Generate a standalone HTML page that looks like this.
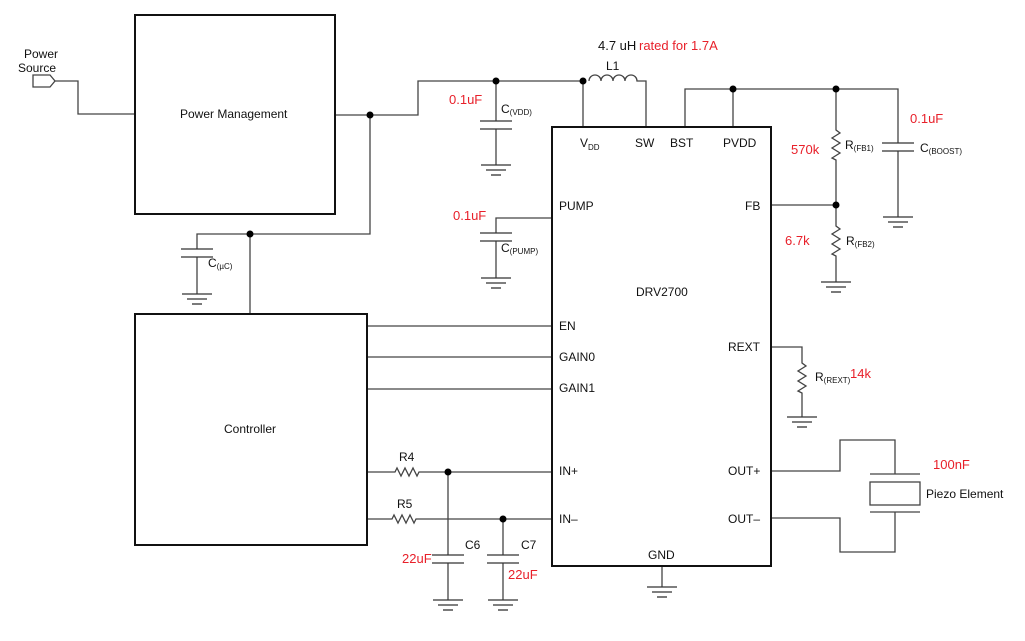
<!DOCTYPE html>
<html><head><meta charset="utf-8">
<style>
html,body{margin:0;padding:0;background:#fff;}
svg{display:block;}
text{font-family:"Liberation Sans",sans-serif;font-size:12px;fill:#111;}
.r{fill:#e8202a;font-size:13px;}
.s{font-size:8px;}
</style></head><body>
<svg width="1025" height="641" viewBox="0 0 1025 641" xmlns="http://www.w3.org/2000/svg">
<defs>
<g id="gnd" stroke="#333" stroke-width="1.3" fill="none">
<line x1="-15" y1="0" x2="15" y2="0"/><line x1="-10" y1="5" x2="10" y2="5"/><line x1="-5" y1="10" x2="5" y2="10"/>
</g>
<g id="cap" stroke="#333" stroke-width="1.3">
<line x1="-16" y1="0" x2="16" y2="0"/><line x1="-16" y1="8" x2="16" y2="8"/>
</g>
</defs>
<g fill="none" stroke="#444" stroke-width="1.3">
<!-- port -->
<path d="M33,75 H50 L55,81 L50,87 H33 Z"/>
<path d="M55,81 H78 V114 H135"/>
<!-- PM out -->
<path d="M335,115 H418 V81 H583"/>
<path d="M370,115 V234 H197 V249"/>
<path d="M197,257 V294"/>
<path d="M250,234 V314"/>
<!-- CVDD -->
<path d="M496,81 V121 M496,129 V165"/>
<!-- L1 -->
<path d="M583,81 V127"/>
<path d="M589,81 a6,6 0 0 1 12,0 a6,6 0 0 1 12,0 a6,6 0 0 1 12,0 a6,6 0 0 1 12,0 H646 V127"/>
<!-- BST/PVDD -->
<path d="M685,127 V89 H898 V143 M898,151 V217"/>
<path d="M733,89 V127"/>
<path d="M836,89 V130 l4,3 l-8,5 l8,5 l-8,5 l8,5 l-8,5 l4,2 V226 l4,3 l-8,5 l8,5 l-8,5 l8,5 l-8,5 l4,2 V282"/>
<path d="M771,205 H836"/>
<!-- PUMP -->
<path d="M552,218 H496 V233 M496,241 V278"/>
<!-- controller lines -->
<path d="M367,326 H552 M367,357 H552 M367,389 H552"/>
<!-- REXT -->
<path d="M771,347 H802 V363 l4,3 l-8,5 l8,5 l-8,5 l8,5 l-8,5 l4,2 V417"/>
<!-- OUT -->
<path d="M771,471 H840 V440 H895 V474 M895,512 V552 H840 V518 H771"/>
<rect x="870" y="482" width="50" height="23"/>
<path d="M870,474 H920 M870,512 H920"/>
<!-- IN -->
<path d="M367,472 H395 l2,-4 l4,8 l4,-8 l4,8 l4,-8 l4,8 l2,-4 H552"/>
<path d="M367,519 H392 l2,-4 l4,8 l4,-8 l4,8 l4,-8 l4,8 l2,-4 H552"/>
<path d="M448,472 V555 M448,563 V600 M503,519 V555 M503,563 V600"/>
<path d="M662,566 V587"/>
</g>
<g fill="none" stroke="#111" stroke-width="2">
<rect x="135" y="15" width="200" height="199"/>
<rect x="135" y="314" width="232" height="231"/>
<rect x="552" y="127" width="219" height="439"/>
</g>
<use href="#cap" x="197" y="249"/><use href="#gnd" x="197" y="294"/>
<use href="#cap" x="496" y="121"/><use href="#gnd" x="496" y="165"/>
<use href="#cap" x="496" y="233"/><use href="#gnd" x="496" y="278"/>
<use href="#cap" x="898" y="143"/><use href="#gnd" x="898" y="217"/>
<use href="#gnd" x="836" y="282"/>
<use href="#gnd" x="802" y="417"/>
<use href="#cap" x="448" y="555"/><use href="#gnd" x="448" y="600"/>
<use href="#cap" x="503" y="555"/><use href="#gnd" x="503" y="600"/>
<use href="#gnd" x="662" y="587"/>
<g fill="#000">
<circle cx="370" cy="115" r="3.5"/><circle cx="250" cy="234" r="3.5"/>
<circle cx="496" cy="81" r="3.5"/><circle cx="583" cy="81" r="3.5"/>
<circle cx="733" cy="89" r="3.5"/><circle cx="836" cy="89" r="3.5"/>
<circle cx="836" cy="205" r="3.5"/>
<circle cx="448" cy="472" r="3.5"/><circle cx="503" cy="519" r="3.5"/>
</g>
<text x="24" y="58">Power</text><text x="18" y="72">Source</text>
<text x="180" y="118">Power Management</text>
<text x="224" y="433">Controller</text>
<text x="636" y="296">DRV2700</text>
<text x="580" y="147">V<tspan class="s" dy="3">DD</tspan></text>
<text x="635" y="147">SW</text><text x="670" y="147">BST</text><text x="723" y="147">PVDD</text>
<text x="559" y="210">PUMP</text><text x="745" y="210">FB</text>
<text x="559" y="330">EN</text><text x="559" y="361">GAIN0</text><text x="559" y="392">GAIN1</text>
<text x="728" y="351">REXT</text>
<text x="559" y="475">IN+</text><text x="559" y="523">IN–</text>
<text x="728" y="475">OUT+</text><text x="728" y="523">OUT–</text>
<text x="648" y="559">GND</text>
<text x="208" y="267">C<tspan class="s" dy="2">(µC)</tspan></text>
<text x="501" y="113">C<tspan class="s" dy="2">(VDD)</tspan></text>
<text x="501" y="252">C<tspan class="s" dy="2">(PUMP)</tspan></text>
<text x="920" y="152">C<tspan class="s" dy="2">(BOOST)</tspan></text>
<text x="845" y="149">R<tspan class="s" dy="2">(FB1)</tspan></text>
<text x="846" y="245">R<tspan class="s" dy="2">(FB2)</tspan></text>
<text x="815" y="381">R<tspan class="s" dy="2">(REXT)</tspan></text>
<text x="606" y="70">L1</text>
<text x="598" y="50" style="font-size:13px">4.7 uH</text>
<text class="r" x="639" y="50">rated for 1.7A</text>
<text class="r" x="449" y="104">0.1uF</text>
<text class="r" x="453" y="220">0.1uF</text>
<text class="r" x="910" y="123">0.1uF</text>
<text class="r" x="791" y="154">570k</text>
<text class="r" x="785" y="245">6.7k</text>
<text class="r" x="850" y="378">14k</text>
<text class="r" x="933" y="469">100nF</text>
<text x="926" y="498">Piezo Element</text>
<text x="399" y="461">R4</text><text x="397" y="508">R5</text>
<text x="465" y="549">C6</text><text x="521" y="549">C7</text>
<text class="r" x="402" y="563">22uF</text>
<text class="r" x="508" y="579">22uF</text>
</svg>
</body></html>
